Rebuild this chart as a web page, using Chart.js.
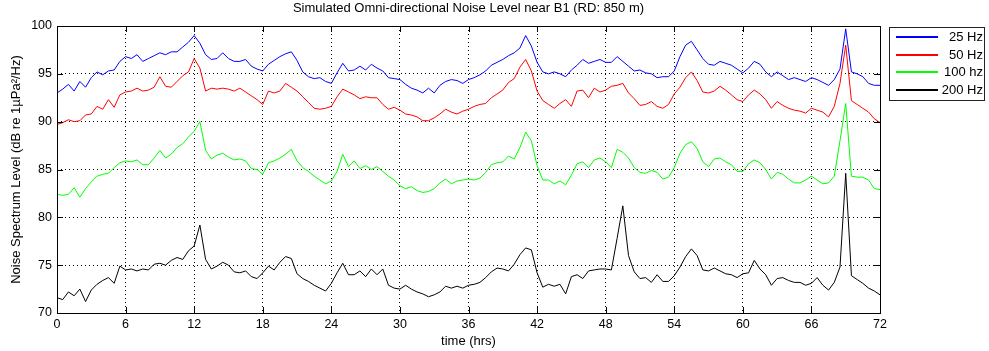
<!DOCTYPE html>
<html>
<head>
<meta charset="utf-8">
<script src="https://cdn.jsdelivr.net/npm/chart.js@4/dist/chart.umd.min.js"></script>
<style>
  html, body { margin: 0; padding: 0; background: #fff; }
  #wrap { width: 989px; height: 351px; }
</style>
</head>
<body>
<div id="wrap"><canvas id="chart" width="989" height="351"></canvas></div>
<script>
// one value every half hour, 0 .. 72 h
const hours = Array.from({ length: 145 }, (_, i) => i * 0.5);
const seriesLabels = ['25 Hz', '50 Hz', '100 hz', '200 Hz'];
const seriesColors = ['#0000ff', '#ff0000', '#00ff00', '#000000'];
const xTicks = [0, 6, 12, 18, 24, 30, 36, 42, 48, 54, 60, 66, 72];
const yTicks = [70, 75, 80, 85, 90, 95, 100];

const level25 = [
  93.0, 93.4, 93.9, 93.2, 94.2, 93.6, 94.6, 95.2, 94.9, 95.3, 95.4, 96.3,
  96.8, 96.6, 97.0, 96.3, 96.6, 96.9, 97.2, 97.0, 97.3, 97.3, 97.8, 98.3,
  99.0, 98.2, 97.0, 96.5, 96.6, 97.2, 96.6, 96.3, 96.3, 96.5, 95.8, 95.5,
  95.3, 96.0, 96.4, 96.8, 97.1, 97.3, 96.4, 95.2, 94.7, 94.5, 94.6, 94.2,
  94.0, 95.1, 96.1, 95.3, 95.4, 95.8, 95.4, 96.0, 95.6, 95.3, 94.6, 94.5,
  94.4, 93.9, 93.5, 93.3, 93.0, 93.5, 93.0, 93.8, 94.2, 94.4, 94.3, 94.0,
  94.4, 94.6, 94.9, 95.3, 95.9, 96.2, 96.5, 96.9, 97.2, 97.7, 99.0, 97.9,
  96.2, 95.2, 95.0, 95.2, 95.0, 94.7, 95.4, 95.9, 96.5, 96.1, 96.3, 96.5,
  96.2, 96.2, 96.8, 96.3, 95.8, 95.3, 95.4, 95.1, 95.0, 94.6, 94.7, 94.7,
  95.3, 96.8, 98.0, 98.4, 97.5, 96.6, 96.0, 95.9, 96.3, 96.1, 95.9, 95.5,
  95.1, 95.6, 96.3, 96.0, 95.2, 94.7, 95.2, 94.8, 94.4, 94.6, 94.4, 94.2,
  94.6, 94.4, 94.1, 93.8, 94.4, 95.5, 99.7, 95.2, 95.0, 94.7, 94.0, 93.8,
  93.8
];
const level50 = [
  89.7, 89.9, 90.2, 90.0, 90.1, 90.7, 90.8, 91.6, 91.3, 92.3, 91.5, 92.8,
  93.1, 93.2, 93.5, 93.2, 93.3, 93.6, 94.7, 93.7, 93.6, 94.2, 94.8, 95.2,
  96.6, 95.6, 93.2, 93.5, 93.4, 93.5, 93.4, 93.2, 93.5, 93.1, 92.7, 92.3,
  91.8, 93.2, 93.0, 93.2, 94.0, 93.6, 93.2, 92.6, 92.0, 91.4, 91.3, 91.4,
  91.6, 92.6, 93.4, 93.1, 92.8, 92.4, 92.6, 92.5, 92.5, 91.8, 91.3, 91.5,
  91.2, 90.8, 90.7, 90.5, 90.1, 90.1, 90.4, 90.8, 91.3, 91.0, 90.8, 91.1,
  91.3, 91.6, 91.8, 91.9, 92.5, 92.9, 93.3, 94.1, 94.5, 95.7, 96.5, 95.3,
  93.2, 92.2, 91.8, 91.4, 91.9, 92.3, 91.6, 93.2, 93.3, 92.5, 93.5, 93.1,
  93.3, 93.7, 93.8, 94.0, 93.0, 92.4, 91.7, 91.8, 92.1, 91.6, 91.4, 91.8,
  92.9, 93.6, 94.6, 95.2, 94.3, 93.1, 93.0, 93.2, 93.7, 93.3, 92.8, 92.3,
  92.1, 92.8, 93.3, 92.9, 92.3, 91.4, 92.1, 91.7, 91.4, 91.2, 91.1, 90.9,
  91.4, 91.2, 91.0, 90.5, 91.6, 94.0, 98.0, 92.2, 91.8, 91.4, 91.0, 90.3,
  89.9
];
const level100 = [
  82.4, 82.3, 82.4, 83.1, 82.1, 83.0, 83.7, 84.3, 84.5, 84.6, 85.2, 85.7,
  85.9, 85.8, 86.0, 85.5, 85.5, 86.2, 87.0, 86.2, 86.6, 87.3, 87.7, 88.4,
  89.0, 90.0, 87.0, 86.1, 86.5, 86.7, 86.3, 86.0, 86.1, 85.9, 85.1, 85.0,
  84.5, 85.7, 85.9, 86.2, 86.6, 87.1, 85.9, 85.2, 84.8, 84.3, 83.9, 83.5,
  83.8, 84.8, 86.6, 85.3, 85.9, 85.1, 85.4, 85.0, 85.3, 84.8, 84.3, 83.9,
  83.3, 83.0, 83.2, 82.8, 82.6, 82.7, 83.0, 83.6, 84.0, 83.5, 83.8, 83.9,
  84.0, 83.9, 84.1, 84.7, 85.5, 85.7, 85.8, 86.4, 86.1, 87.3, 88.9, 88.0,
  85.4, 83.9, 83.9, 83.5, 83.8, 83.4, 84.4, 85.6, 85.8, 85.2, 86.0, 86.2,
  85.8, 85.2, 87.1, 86.8, 86.2, 85.2, 84.7, 84.6, 84.9, 84.7, 84.0, 84.2,
  85.2, 86.7, 87.6, 87.9, 87.2, 85.8, 85.3, 86.1, 86.2, 85.8, 85.5, 84.8,
  84.8, 85.6, 86.0, 85.7, 85.0, 84.0, 84.7, 84.5, 84.0, 83.6, 83.6, 83.9,
  84.3, 83.9, 83.5, 83.6, 84.3, 88.0, 91.9, 84.3, 84.2, 84.2, 83.9, 83.0,
  82.9
];
const level200 = [
  71.6, 71.4, 72.2, 71.8, 72.5, 71.2, 72.4, 73.0, 73.4, 73.7, 73.1, 74.9,
  74.5, 74.6, 74.4, 74.6, 74.5, 75.1, 75.2, 75.0, 75.5, 75.8, 75.6, 76.5,
  77.0, 79.2, 75.6, 74.6, 74.9, 75.3, 75.0, 74.3, 74.2, 74.4, 73.8, 73.6,
  74.2, 74.9, 74.5, 75.3, 75.9, 75.7, 74.1, 73.6, 73.3, 72.9, 72.6, 72.3,
  73.1, 74.2, 75.2, 74.0, 74.0, 74.4, 73.8, 74.6, 74.0, 74.6, 72.9, 72.6,
  72.5, 72.9, 72.5, 72.2, 72.0, 71.7, 71.9, 72.2, 72.8, 72.6, 72.8, 72.6,
  72.9, 73.0, 73.2, 73.7, 74.3, 74.7, 74.6, 74.4, 75.1, 76.1, 76.8, 76.6,
  74.2, 72.7, 73.0, 72.8, 73.0, 72.0, 73.8, 74.0, 73.6, 74.4, 74.5, 74.6,
  74.6, 74.5, 77.8, 81.2, 76.0, 74.3, 73.6, 73.7, 73.2, 74.0, 73.3, 73.3,
  73.9, 74.8, 75.9, 76.7, 76.0, 74.5, 74.4, 74.7, 74.4, 74.1, 74.0, 73.7,
  74.1, 74.2, 75.5, 74.6, 74.0, 72.9, 73.6, 73.7, 73.4, 73.2, 73.2, 72.9,
  73.1, 73.7, 72.9, 72.4, 73.2, 74.8, 84.6, 73.9, 73.5, 73.1, 72.6, 72.3,
  71.9
];

const levels = [level25, level50, level100, level200];
const FONT = 'Liberation Sans, Arial, sans-serif';

/* marcas hacia dentro, caja del eje y leyenda con recuadro al estilo MATLAB */
const matlabFrame = {
  id: 'matlabFrame',
  afterDraw(chart) {
    const { ctx, chartArea: a, scales: { x, y } } = chart;
    ctx.save();
    ctx.setLineDash([]);
    ctx.strokeStyle = '#000';
    ctx.lineWidth = 1;
    ctx.beginPath();
    xTicks.forEach(v => {
      const px = Math.round(x.getPixelForValue(v)) + 0.5;
      ctx.moveTo(px, a.bottom); ctx.lineTo(px, a.bottom - 6);
      ctx.moveTo(px, a.top); ctx.lineTo(px, a.top + 6);
    });
    yTicks.forEach(v => {
      const py = Math.round(y.getPixelForValue(v)) + 0.5;
      ctx.moveTo(a.left, py); ctx.lineTo(a.left + 6, py);
      ctx.moveTo(a.right, py); ctx.lineTo(a.right - 6, py);
    });
    ctx.stroke();
    ctx.strokeRect(Math.round(a.left) + 0.5, Math.round(a.top) + 0.5,
      Math.round(a.right - a.left), Math.round(a.bottom - a.top));

    // leyenda
    const lx = 889, ly = 27, lw = 95, lh = 73;
    ctx.fillStyle = '#fff';
    ctx.fillRect(lx, ly, lw, lh);
    ctx.strokeStyle = '#222';
    ctx.strokeRect(lx + 0.5, ly + 0.5, lw, lh);
    ctx.font = '13px ' + FONT;
    ctx.textBaseline = 'middle';
    ctx.textAlign = 'right';
    seriesLabels.forEach((label, i) => {
      const cy = Math.round(ly + 10 + i * 17.6);
      ctx.fillStyle = seriesColors[i];
      ctx.fillRect(896, cy - 1, 42, 2);
      ctx.fillStyle = '#000';
      ctx.fillText(label, 983, cy);
    });
    ctx.restore();
  }
};

new Chart(document.getElementById('chart'), {
  type: 'line',
  data: {
    datasets: levels.map((vals, i) => ({
      label: seriesLabels[i],
      data: vals.map((v, j) => ({ x: hours[j], y: v })),
      borderColor: seriesColors[i],
      backgroundColor: seriesColors[i],
      borderWidth: 1,
      pointRadius: 0,
      tension: 0,
      fill: false
    }))
  },
  options: {
    responsive: false,
    animation: false,
    layout: { padding: { left: 0, right: 109, top: 0, bottom: 0 } },
    plugins: {
      legend: { display: false },
      tooltip: { enabled: false },
      title: {
        display: true,
        fullSize: false,
        text: 'Simulated Omni-directional Noise Level near B1 (RD: 850 m)',
        color: '#000',
        font: { family: FONT, size: 13, weight: 'normal', lineHeight: 1.2 },
        padding: { top: 1, bottom: 9.4 }
      }
    },
    scales: {
      x: {
        type: 'linear',
        min: 0,
        max: 72,
        afterFit: s => { s.height = 38; },
        afterBuildTicks: s => { s.ticks = xTicks.map(v => ({ value: v })); },
        ticks: { color: '#000', padding: 4, font: { family: FONT, size: 12.5 } },
        grid: { color: '#000', drawTicks: false, lineWidth: 1 },
        border: { display: false, dash: [1, 3] },
        title: {
          display: true,
          text: 'time (hrs)',
          color: '#000',
          font: { family: FONT, size: 13 },
          padding: { top: 0, bottom: 2 }
        }
      },
      y: {
        min: 70,
        max: 100,
        afterFit: s => { s.width = 57; },
        afterBuildTicks: s => { s.ticks = yTicks.map(v => ({ value: v })); },
        ticks: { color: '#000', padding: 5, font: { family: FONT, size: 12.5 } },
        grid: { color: '#000', drawTicks: false, lineWidth: 1 },
        border: { display: false, dash: [1, 3] },
        title: {
          display: true,
          text: 'Noise Spectrum Level (dB re 1µPa²/Hz)',
          color: '#000',
          font: { family: FONT, size: 13 },
          padding: { top: 9, bottom: 0 }
        }
      }
    }
  },
  plugins: [matlabFrame]
});
</script>
</body>
</html>
